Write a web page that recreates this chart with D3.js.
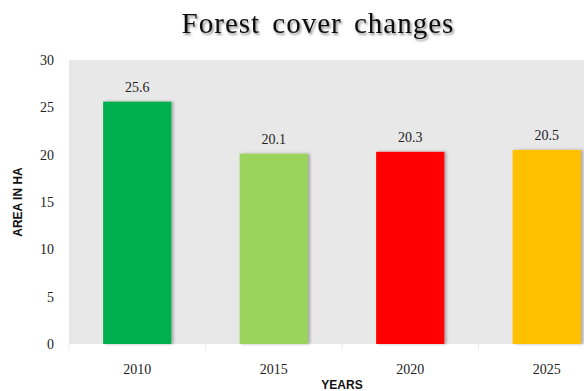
<!DOCTYPE html>
<html>
<head>
<meta charset="utf-8">
<script src="https://cdn.jsdelivr.net/npm/d3@7"></script>
<style>
  body { margin: 0; background: #fff; overflow: hidden; }
  svg { display: block; }
  .tick-label { font-family: "Liberation Serif", serif; font-size: 14px; fill: #222; }
  .value-label { font-family: "Liberation Serif", serif; font-size: 14px; fill: #222; }
  .axis-title { font-family: "Liberation Sans", Arial, sans-serif; font-weight: bold; font-size: 12px; fill: #111; }
  .title { font-family: "Liberation Serif", "Times New Roman", serif; font-size: 29px; fill: #111; letter-spacing: 1px; word-spacing: 4px; }
</style>
</head>
<body>
<svg id="chart" width="584" height="391"></svg>
<script>
const years = ["2010", "2015", "2020", "2025"];
const areas = [25.6, 20.1, 20.3, 20.5];
const barColors = ["#00b050", "#9bd45b", "#ff0000", "#ffc000"];
const yTicks = [0, 5, 10, 15, 20, 25, 30];

const svg = d3.select("#chart");
const defs = svg.append("defs");

const shadow = defs.append("filter").attr("id", "titleShadow")
  .attr("x", "-10%").attr("y", "-20%").attr("width", "120%").attr("height", "150%");
shadow.append("feDropShadow").attr("dx", 1.5).attr("dy", 2).attr("stdDeviation", 1.2)
  .attr("flood-color", "#000").attr("flood-opacity", 0.45);

const barShadow = defs.append("filter").attr("id", "barShadow")
  .attr("x", "-10%").attr("y", "-5%").attr("width", "130%").attr("height", "110%");
barShadow.append("feDropShadow").attr("dx", 2).attr("dy", 0).attr("stdDeviation", 1.5)
  .attr("flood-color", "#000").attr("flood-opacity", 0.3);

const plot = { left: 69, right: 615, top: 60, bottom: 344 };

const x = d3.scaleBand().domain(years).range([plot.left, plot.right]).paddingInner(0.5).paddingOuter(0.25);
const y = d3.scaleLinear().domain([0, 30]).range([plot.bottom, plot.top]);

// plot background
svg.append("rect")
  .attr("x", plot.left).attr("y", plot.top)
  .attr("width", plot.right - plot.left).attr("height", plot.bottom - plot.top)
  .attr("fill", "#e8e8e8");

// category separators below axis
const catWidth = (plot.right - plot.left) / years.length;
svg.append("g").selectAll("line")
  .data(d3.range(0, years.length + 1))
  .join("line")
  .attr("x1", (i) => plot.left + i * catWidth)
  .attr("x2", (i) => plot.left + i * catWidth)
  .attr("y1", plot.bottom).attr("y2", plot.bottom + 6)
  .attr("stroke", "#ececec");

// bars
svg.append("g").selectAll("rect")
  .data(years)
  .join("rect")
  .attr("x", (d) => x(d))
  .attr("y", (d, i) => y(areas[i]))
  .attr("width", x.bandwidth())
  .attr("height", (d, i) => y(0) - y(areas[i]))
  .attr("fill", (d, i) => barColors[i])
  .attr("filter", "url(#barShadow)");

// value labels
svg.append("g").selectAll("text")
  .data(years)
  .join("text")
  .attr("class", "value-label")
  .attr("x", (d) => x(d) + x.bandwidth() / 2)
  .attr("y", (d, i) => y(areas[i]) - 10)
  .attr("text-anchor", "middle")
  .text((d, i) => areas[i].toFixed(1));

// y tick labels
svg.append("g").selectAll("text")
  .data(yTicks)
  .join("text")
  .attr("class", "tick-label")
  .attr("x", 54)
  .attr("y", (d) => y(d))
  .attr("dy", "0.35em")
  .attr("text-anchor", "end")
  .text((d) => d);

// x tick labels
svg.append("g").selectAll("text")
  .data(years)
  .join("text")
  .attr("class", "tick-label")
  .attr("x", (d) => x(d) + x.bandwidth() / 2)
  .attr("y", 374)
  .attr("text-anchor", "middle")
  .text((d) => d);

// axis titles
svg.append("text")
  .attr("class", "axis-title")
  .attr("x", (plot.left + plot.right) / 2)
  .attr("y", 389)
  .attr("text-anchor", "middle")
  .text("YEARS");

svg.append("text")
  .attr("class", "axis-title")
  .attr("transform", `translate(22, ${(plot.top + plot.bottom) / 2}) rotate(-90)`)
  .attr("text-anchor", "middle")
  .text("AREA IN HA");

// title
svg.append("text")
  .attr("class", "title")
  .attr("x", 318)
  .attr("y", 33)
  .attr("text-anchor", "middle")
  .attr("filter", "url(#titleShadow)")
  .text("Forest cover changes");
</script>
</body>
</html>
